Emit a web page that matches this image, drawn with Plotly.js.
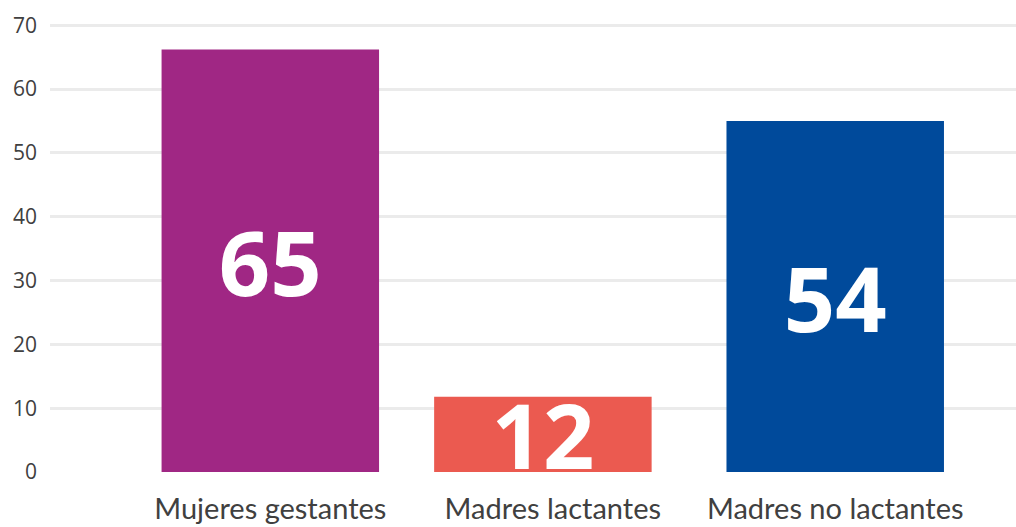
<!DOCTYPE html>
<html>
<head>
<meta charset="utf-8">
<script src="https://cdn.plot.ly/plotly-3.0.1.min.js"></script>
<style>html,body{margin:0;padding:0;background:#fff;}#chart{width:1016px;height:527px;}</style>
</head>
<body>
<div id="chart"></div>
<script>
var categories = ["Mujeres gestantes", "Madres lactantes", "Madres no lactantes"];
var values = [66.2, 11.8, 55];
var valueLabels = ["65", "12", "54"];
var barColors = ["#A02784", "#EB5A50", "#004A9B"];
var yTicks = [0, 10, 20, 30, 40, 50, 60, 70];

var trace = {
  type: "bar",
  x: categories,
  y: values,
  text: valueLabels,
  textposition: "inside",
  insidetextanchor: "middle",
  constraintext: "none",
  textangle: 0,
  textfont: {family: "'Open Sans', 'Noto Sans', sans-serif", size: 90, color: "#ffffff", weight: "bold"},
  marker: {color: barColors},
  width: 0.77,
  offset: [-0.385, -0.42, -0.385],
  hoverinfo: "none"
};

var layout = {
  width: 1016, height: 527,
  margin: {l: 50, r: 0, t: 24, b: 55},
  paper_bgcolor: "#ffffff", plot_bgcolor: "#ffffff",
  showlegend: false,
  xaxis: {
    type: "category",
    range: [-0.78, 2.64],
    showgrid: false, zeroline: false, showline: false,
    ticks: "",
    tickfont: {family: "Lato, 'Open Sans', sans-serif", size: 29, color: "#404040"},
    ticklabelstandoff: 17
  },
  yaxis: {
    range: [0, 70.2],
    tickvals: yTicks,
    ticktext: yTicks.map(String),
    showgrid: true, gridcolor: "#ebebeb", gridwidth: 3,
    zeroline: false, showline: false,
    ticks: "",
    tickfont: {family: "'Open Sans', sans-serif", size: 21, color: "#404040"},
    ticklabelstandoff: 12
  }
};

Plotly.newPlot("chart", [trace], layout, {staticPlot: true, displayModeBar: false});
</script>
</body>
</html>
